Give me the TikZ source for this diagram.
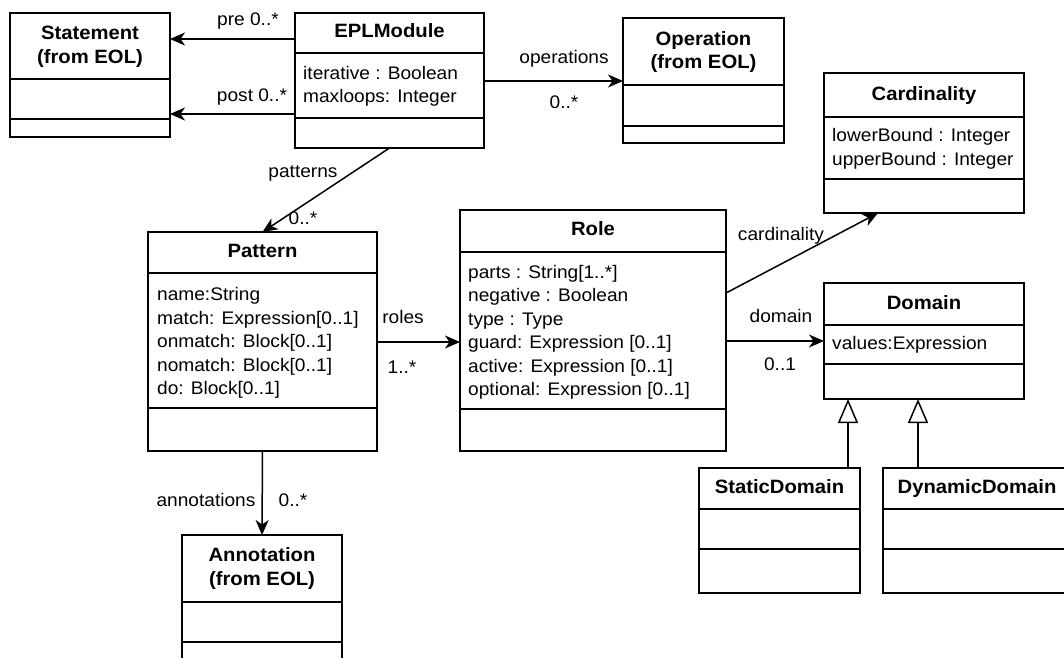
\documentclass[tikz,border=0pt]{standalone}
\usepackage{fontspec}
\setmainfont[FakeStretch=1.05]{Liberation Sans}
\usetikzlibrary{arrows.meta}

\tikzset{
  lw/.style={line width=1.5pt},
  cls/.style={draw, lw, rectangle, inner sep=0pt, outer sep=0pt},
  ttl/.style={font=\fontsize{19.3}{23.5}\selectfont\bfseries, inner sep=0pt,
              text height=13.8pt, text depth=4pt},
  attr/.style={font=\fontsize{18.2}{23.5}\selectfont, inner sep=0pt, anchor=west,
               text height=13.1pt, text depth=3.8pt},
  lbl/.style={attr, anchor=center},
  assoc/.style={lw, -{Stealth[length=15pt,width=13pt,inset=4.5pt]}},
  gen/.style={lw, -{Triangle[open,length=24pt,width=20pt]}},
}

% A class box: name, left, top, right, bottom, first divider, second divider
\newcommand\umlclass[7]{%
  \node[cls, anchor=north west, minimum width={(#4-#2)*1pt},
        minimum height={(#5-#3)*1pt}] (#1) at (#2,#3) {};
  \draw[lw] (#1.west |- 0,#6) -- (#1.east |- 0,#6)
            (#1.west |- 0,#7) -- (#1.east |- 0,#7);
}

\begin{document}
\begin{tikzpicture}[x=1pt, y=-1pt]
\useasboundingbox (0,0) rectangle (1064,657);
\clip (0,0) rectangle (1064,657);

% ---- classes ----
\umlclass{stmt}{10}{13}{170}{137}{79}{119}
\node[ttl] (stmtA) at (90,35) {Statement};
\node[ttl] (stmtB) at (90,59) {(from EOL)};

\umlclass{eplm}{295}{13}{484}{148}{53}{118}
\node[ttl] (eplmA) at (389.5,33) {EPLModule};
\node[attr] (eplm1) at (303,75) {iterative : Boolean};
\node[attr] (eplm2) at (303,98) {maxloops: Integer};

\umlclass{op}{623}{18}{784}{143}{85}{126}
\node[ttl] (opA) at (703.5,41) {Operation};
\node[ttl] (opB) at (703.5,64) {(from EOL)};

\umlclass{card}{824}{73}{1024}{213}{117}{179}
\node[ttl] (cardA) at (924,96) {Cardinality};
\node[attr] (card1) at (832,137) {lowerBound : Integer};
\node[attr] (card2) at (832,161) {upperBound : Integer};

\umlclass{pat}{148}{232}{377}{451}{273}{408}
\node[ttl] (patA) at (262.5,253) {Pattern};
\node[attr] (pat1) at (157,296) {name:String};
\node[attr] (pat2) at (157,319.5) {match: Expression[0..1]};
\node[attr] (pat3) at (157,343) {onmatch: Block[0..1]};
\node[attr] (pat4) at (157,366.5) {nomatch: Block[0..1]};
\node[attr] (pat5) at (157,390) {do: Block[0..1]};

\umlclass{role}{460}{210}{726}{451}{252}{409}
\node[ttl] (roleA) at (593,231) {Role};
\node[attr] (role1) at (468,274) {parts : String[1..*]};
\node[attr] (role2) at (468,297) {negative : Boolean};
\node[attr] (role3) at (468,320.5) {type : Type};
\node[attr] (role4) at (468,344) {guard: Expression [0..1]};
\node[attr] (role5) at (468,367.5) {active: Expression [0..1]};
\node[attr] (role6) at (468,391) {optional: Expression [0..1]};

\umlclass{dom}{824}{283}{1024}{399}{325}{364}
\node[ttl] (domA) at (924,305) {Domain};
\node[attr] (dom1) at (832,345) {values:Expression};

\umlclass{sd}{699}{468}{860}{593}{509}{549}
\node[ttl] (sdA) at (779.5,489) {StaticDomain};

\umlclass{dd}{883}{468}{1071}{593}{509}{549}
\node[ttl] (ddA) at (977,489) {DynamicDomain};

\umlclass{ann}{182}{535}{342}{680}{602}{642}
\node[ttl] (annA) at (262,557) {Annotation};
\node[ttl] (annB) at (262,581) {(from EOL)};

% ---- associations ----
\draw[assoc] (eplm.west |- 0,39) -- (stmt.east |- 0,39);
\node[lbl] (preL) at (248,21) {pre 0..*};
\draw[assoc] (eplm.west |- 0,114) -- (stmt.east |- 0,114);
\node[lbl] (postL) at (252,97) {post 0..*};

\draw[assoc] (eplm.east |- 0,81) -- (op.west |- 0,81);
\node[lbl] (opsL) at (564,59) {operations};
\node[lbl] (opsM) at (564,104) {0..*};

\draw[assoc] (eplm.south) -- (pat.north);
\node[lbl] (patL) at (303,173) {patterns};
\node[lbl] (patM) at (303,220) {0..*};

\draw[assoc] (pat.east |- 0,342) -- (role.west |- 0,342);
\node[lbl] (rolesL) at (403,319) {roles};
\node[lbl] (rolesM) at (402,369) {1..*};

\draw[assoc] (role.east |- 0,293) -- (card.south -| 878,0);
\node[lbl] (cardL) at (781,236) {cardinality};

\draw[assoc] (role.east |- 0,341) -- (dom.west |- 0,341);
\node[lbl] (domL) at (781,318) {domain};
\node[lbl] (domM) at (780,366) {0..1};

\draw[assoc] (pat.south) -- (ann.north);
\node[lbl] (annL) at (206,502) {annotations};
\node[lbl] (annM) at (293,502) {0..*};

% ---- generalisations ----
\draw[gen] (sd.north -| 848,0) -- (dom.south -| 848,0);
\draw[gen] (dd.north -| 918,0) -- (dom.south -| 918,0);
\end{tikzpicture}
\end{document}
